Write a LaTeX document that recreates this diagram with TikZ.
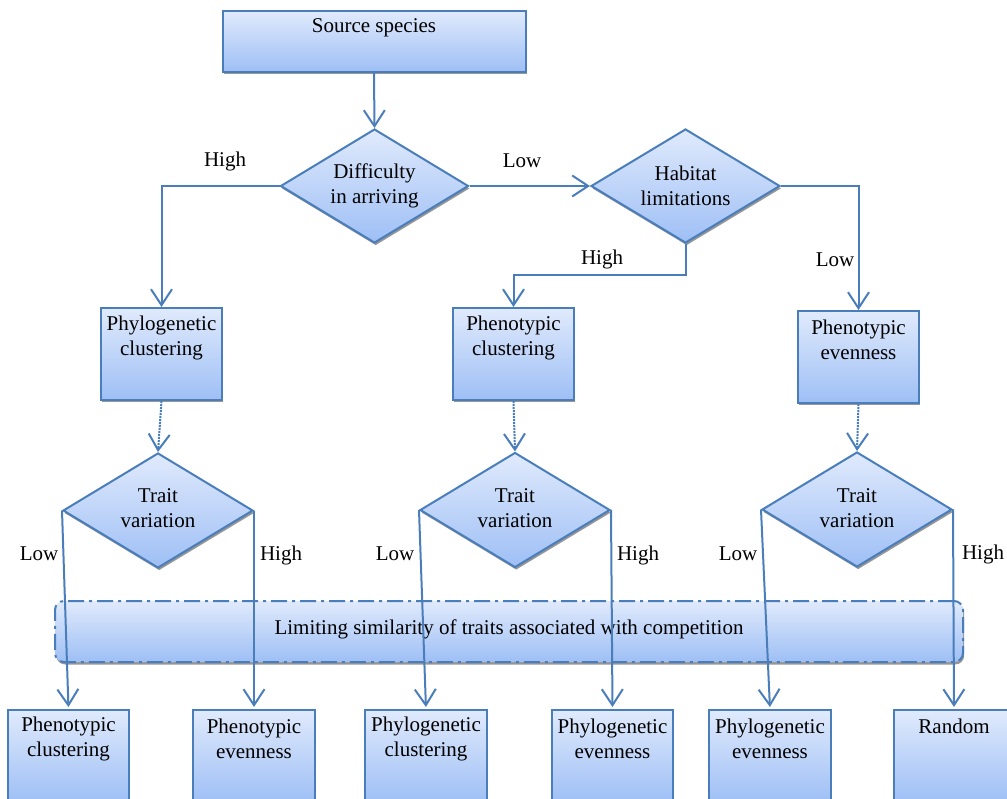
\documentclass[tikz,border=0pt]{standalone}
\usepackage{fontspec}
\setmainfont{Liberation Serif}
\usetikzlibrary{shapes.geometric,arrows.meta,shadows}
\definecolor{edge}{RGB}{74,126,187}
\definecolor{ftop}{RGB}{224,234,252}
\definecolor{fbot}{RGB}{158,191,245}
\begin{document}
\begin{tikzpicture}[x=1pt,y=-1pt,
  shad/.style={drop shadow={shadow xshift=1.2pt,shadow yshift=-2.5pt,fill=black!55,opacity=0.75}},
  box/.style={shape=rectangle,draw=edge,line width=2pt,top color=ftop,bottom color=fbot,shad,inner sep=0pt},
  dia/.style={shape=diamond,draw=edge,line width=2pt,top color=ftop,bottom color=fbot,shad,inner sep=0pt,minimum width=190pt,minimum height=115pt},
  txt/.style={font=\fontsize{21}{25}\selectfont,align=center,inner sep=0pt,yshift=-2pt},
  conn/.style={draw=edge,line width=2pt,-{Straight Barb[length=16pt,width=21pt,line width=2pt]}},
  dconn/.style={conn,densely dotted}
]
\useasboundingbox (0,0) rectangle (1007,799);
\clip (0,0) rectangle (1007,799);

% top
\node[box,minimum width=303pt,minimum height=61pt] (src) at (374,41.5) {};
\node[txt] (tsrc) at (374,26) {Source species};
\node[dia,minimum width=188pt,minimum height=114pt] (d1) at (374.5,186) {};
\node[txt] (td1) at (374.5,184) {Difficulty\\in arriving};
\node[dia,minimum width=189pt,minimum height=114pt] (hab) at (685.5,186) {};
\node[txt] (thab) at (685.5,184) {Habitat\\limitations};

% second row
\node[box,minimum width=121pt,minimum height=92pt] (pc1) at (161.5,354) {};
\node[txt] (tpc1) at (161.5,336) {Phylogenetic\\clustering};
\node[box,minimum width=121pt,minimum height=92pt] (pc2) at (513.5,354) {};
\node[txt] (tpc2) at (513.5,336) {Phenotypic\\clustering};
\node[box,minimum width=121pt,minimum height=92pt] (pe) at (858.5,357) {};
\node[txt] (tpe) at (858.5,338) {Phenotypic\\evenness};

% trait diamonds
\node[dia] (t1) at (158,510.5) {};
\node[txt] (tt1) at (158,506.5) {Trait\\variation};
\node[dia] (t2) at (515,510) {};
\node[txt] (tt2) at (515,506) {Trait\\variation};
\node[dia] (t3) at (857,509.5) {};
\node[txt] (tt3) at (857,506) {Trait\\variation};

% limiting similarity band
\node[box,rounded corners=9pt,minimum width=908pt,minimum height=61pt,
      dash pattern=on 16pt off 5pt on 3pt off 5pt] (lim) at (509,631.5) {};
\node[txt] (tlim) at (509,627) {Limiting similarity of traits associated with competition};

% bottom row
\node[box,minimum width=121pt,minimum height=92pt] (b1) at (68.5,756) {};
\node[txt] (tb1) at (68.5,737) {Phenotypic\\clustering};
\node[box,minimum width=122pt,minimum height=92pt] (b2) at (254,756) {};
\node[txt] (tb2) at (254,737) {Phenotypic\\evenness};
\node[box,minimum width=122pt,minimum height=92pt] (b3) at (426,756) {};
\node[txt] (tb3) at (426,737) {Phylogenetic\\clustering};
\node[box,minimum width=121pt,minimum height=92pt] (b4) at (612.5,756) {};
\node[txt] (tb4) at (612.5,737) {Phylogenetic\\evenness};
\node[box,minimum width=122pt,minimum height=92pt] (b5) at (770,756) {};
\node[txt] (tb5) at (770,737) {Phylogenetic\\evenness};
\node[box,minimum width=120pt,minimum height=92pt] (b6) at (954,756) {};
\node[txt] (tb6) at (954,724) {Random};

% connectors
\draw[conn] (src.south) -- (d1.north);
\draw[conn] (d1.west) -| (pc1.north);
\draw[conn] (d1.east) -- (hab.west);
\draw[conn] (hab.south) -- (hab.south |- 0,275) -| (pc2.north);
\draw[conn] (hab.east) -| (pe.north);
\draw[dconn] (pc1.south) -- (t1.north);
\draw[dconn] (pc2.south) -- (t2.north);
\draw[dconn] (pe.south) -- (t3.north);
\draw[conn,shorten >=2pt] (t1.west) -- (b1.north);
\draw[conn,shorten >=2pt] (t1.east) -- (b2.north);
\draw[conn,shorten >=2pt] (t2.west) -- (b3.north);
\draw[conn,shorten >=2pt] (t2.east) -- (b4.north);
\draw[conn,shorten >=2pt] (t3.west) -- (b5.north);
\draw[conn,shorten >=2pt] (t3.east) -- (b6.north);

% labels
\node[txt] (l1) at (225,159) {High};
\node[txt] (l2) at (522,159) {Low};
\node[txt] (l3) at (602,257) {High};
\node[txt] (l4) at (835,258) {Low};
\node[txt] (l5) at (39,552) {Low};
\node[txt] (l6) at (281,553) {High};
\node[txt] (l7) at (395,552) {Low};
\node[txt] (l8) at (638,553) {High};
\node[txt] (l9) at (738,552) {Low};
\node[txt] (l10) at (983,552) {High};
\end{tikzpicture}
\end{document}
